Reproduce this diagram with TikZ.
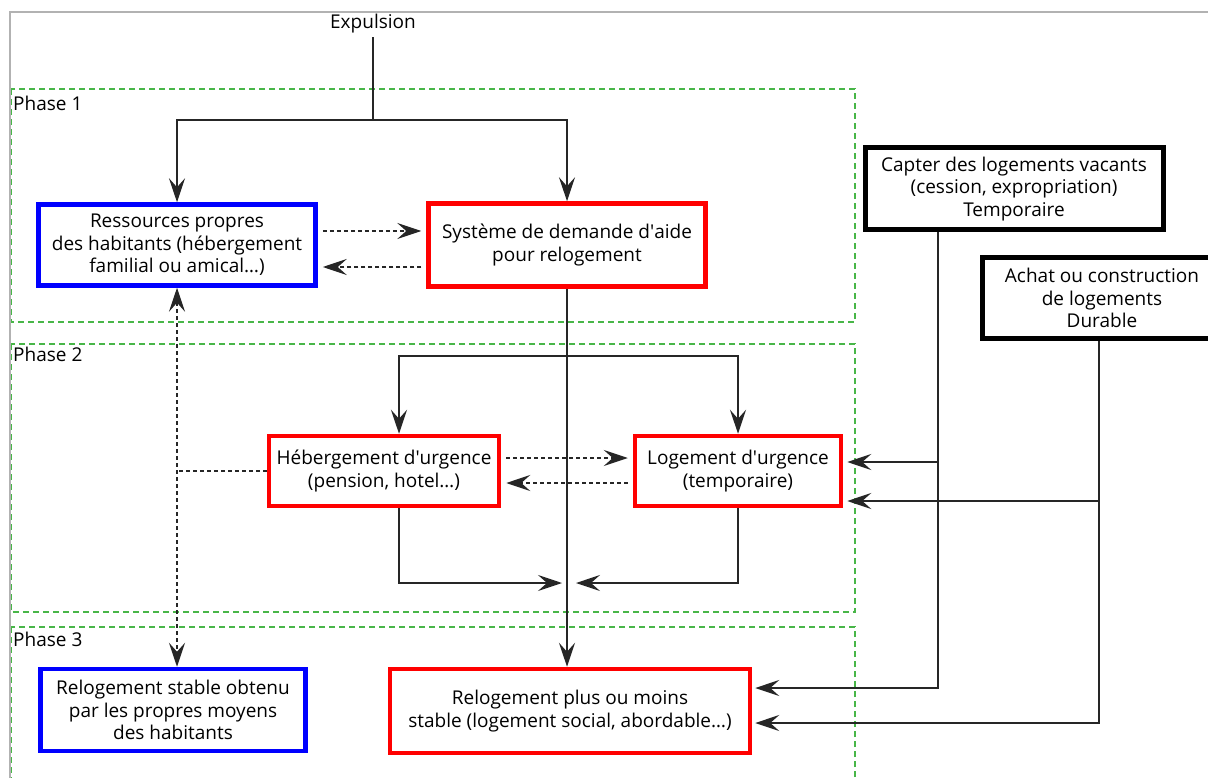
\documentclass[tikz,border=0pt]{standalone}
\usepackage{fontspec}
\setmainfont{Open Sans}
\usetikzlibrary{arrows.meta}
\definecolor{phasegreen}{RGB}{72,182,72}
\newcommand{\apos}{\textquotesingle}
\tikzstyle{bluebox} = [rectangle, draw=blue, line width=4.5pt, align=center, text centered, inner sep=0pt]
\tikzstyle{redbox} = [rectangle, draw=red, line width=4.5pt, align=center, text centered, inner sep=0pt]
\tikzstyle{blackbox} = [rectangle, draw=black, line width=5pt, align=center, text centered, inner sep=0pt]
\tikzstyle{phase} = [draw=phasegreen, line width=1.5pt, dash pattern=on 6pt off 4pt]
\tikzstyle{phaselabel} = [anchor=west, inner sep=0pt]
\tikzstyle{link} = [line width=1.4pt, draw=black!85]
\tikzstyle{arrow} = [link, -{Stealth[length=24pt,width=16pt,inset=9pt]}]
\tikzstyle{dasharrow} = [arrow, dash pattern=on 4pt off 3pt, shorten >=5pt, shorten <=5pt]
\tikzstyle{dashline} = [link, dash pattern=on 4pt off 3pt]

\begin{document}
\begin{tikzpicture}[x=1pt, y=-1pt, font=\fontsize{19}{22.5}\selectfont]
\useasboundingbox (0,0) rectangle (1208,778);
\clip (0,0) rectangle (1208,778);

% phases
\draw[phase] (11,89) rectangle (855,322);
\draw[phase] (11,344) rectangle (855,612);
\draw[phase] (11,627) rectangle (855,800);
\node (ph1) [phaselabel] at (13,103) {Phase 1};
\node (ph2) [phaselabel] at (13,354) {Phase 2};
\node (ph3) [phaselabel] at (13,639) {Phase 3};
\draw[gray!60, line width=1.5pt] (1208,12) -- (10,12) -- (10,778);

% boxes
\node (expul) at (373,24) {Expulsion};
\node (ress) [bluebox, minimum width=277pt, minimum height=81pt] at (177,245) {Ressources propres\\des habitants (hébergement\\familial ou amical…)};
\node (sys) [redbox, minimum width=277pt, minimum height=83pt] at (567,245) {Système de demande d\apos aide\\pour relogement};
\node (capter) [blackbox, minimum width=298pt, minimum height=82pt] at (1014,189) {Capter des logements vacants\\(cession, expropriation)\\Temporaire};
\node (achat) [blackbox, minimum width=240pt, minimum height=81pt] at (1102,298) {Achat ou construction\\de logements\\Durable};
\node (heb) [redbox, minimum width=230pt, minimum height=70pt] at (384,471) {Hébergement d\apos urgence\\(pension, hotel…)};
\node (loge) [redbox, minimum width=206pt, minimum height=70pt] at (738,471) {Logement d\apos urgence\\(temporaire)};
\node (stable) [bluebox, minimum width=265pt, minimum height=82pt] at (173,710) {Relogement stable obtenu\\par les propres moyens\\des habitants};
\node (plus) [redbox, minimum width=360pt, minimum height=84pt] at (570,711) {Relogement plus ou moins\\stable (logement social, abordable…)};

\coordinate (split1) at (373,120);
\coordinate (split2) at (568,356);
\coordinate (merge) at (568,583);
\coordinate (captrunk) at ([xshift=-76pt]capter.south);
\coordinate (achtrunk) at ([xshift=-3pt]achat.south);

% phase 1
\draw [link] (expul) -- (split1);
\draw [arrow] (split1) -| (ress);
\draw [arrow] (split1) -| (sys);
\draw [dasharrow] (ress.east |- 0,231) -- (sys.west |- 0,231);
\draw [dasharrow] (sys.west |- 0,267) -- (ress.east |- 0,267);
\draw [arrow] (sys.south) -- (sys.south |- plus.north);

% phase 2
\draw [arrow] (split2) -| ([xshift=15pt]heb.north);
\draw [arrow] (split2) -| (loge);
\draw [dasharrow] (heb.east |- 0,458) -- (loge.west |- 0,458);
\draw [dasharrow] (loge.west |- 0,483) -- (heb.east |- 0,483);
\draw [arrow, shorten >=6pt] ([xshift=15pt]heb.south) |- (merge);
\draw [arrow, shorten >=8pt] (loge.south) |- (merge);
\draw [dasharrow, {Stealth[length=24pt,width=16pt,inset=9pt]}-{Stealth[length=24pt,width=16pt,inset=9pt]}, shorten >=0pt, shorten <=0pt] (ress.south) -- (ress.south |- stable.north);
\draw [dashline] (heb.west) -- (heb.west -| ress.south);

% capter / achat
\draw [arrow, shorten >=3pt] (captrunk) |- (plus.east |- 0,688);
\draw [arrow, shorten >=4pt] (captrunk |- 0,462) -- (loge.east |- 0,462);
\draw [arrow, shorten >=3pt] (achtrunk) |- (plus.east |- 0,723);
\draw [arrow, shorten >=4pt] (achtrunk |- 0,501) -- (loge.east |- 0,501);

\end{tikzpicture}
\end{document}
